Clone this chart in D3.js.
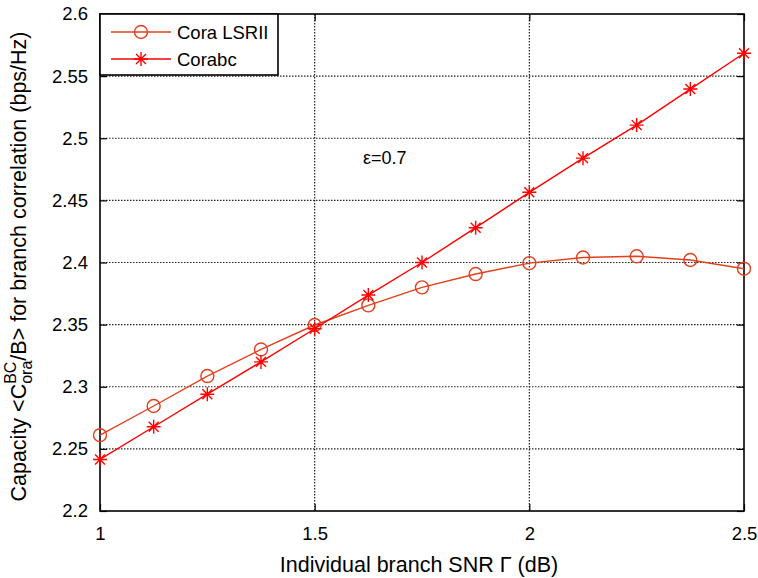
<!DOCTYPE html>
<html>
<head>
<meta charset="utf-8">
<script src="https://cdn.jsdelivr.net/npm/d3@7"></script>
<style>
  body { margin: 0; background: #fff; }
  svg { display: block; font-family: "Liberation Sans", Arial, Helvetica, sans-serif; }
</style>
</head>
<body>
<div id="container"></div>
<script>
const width = 758;
const height = 578;
const marginLeft = 100;
const marginRight = 14;
const marginTop = 14;
const marginBottom = 67;

// SNR points (dB)
const snr = [1, 1.125, 1.25, 1.375, 1.5, 1.625, 1.75, 1.875, 2, 2.125, 2.25, 2.375, 2.5];
// values
const coraLSRII = [2.261, 2.2845, 2.3086, 2.330, 2.3497, 2.3655, 2.380, 2.3907, 2.3995, 2.404, 2.405, 2.402, 2.395];
const corabc = [2.2415, 2.2678, 2.294, 2.320, 2.3467, 2.3738, 2.400, 2.428, 2.4565, 2.484, 2.5106, 2.5396, 2.5684];

const xTicks = [1, 1.5, 2, 2.5];
const yTicks = [2.2, 2.25, 2.3, 2.35, 2.4, 2.45, 2.5, 2.55, 2.6];

const seriesNames = ["Cora LSRII", "Corabc"];
const seriesColors = ["#e2401c", "#ff0000"];
const seriesMarkers = ["circle", "star"];

const x = d3.scaleLinear().domain([1, 2.5]).range([marginLeft, width - marginRight]);
const y = d3.scaleLinear().domain([2.2, 2.6]).range([height - marginBottom, marginTop]);

const svg = d3.select("#container").append("svg")
  .attr("width", width)
  .attr("height", height)
  .attr("viewBox", [0, 0, width, height]);

// grid
svg.append("g")
  .selectAll("line")
  .data(xTicks.slice(1, -1))
  .join("line")
  .attr("x1", d => x(d)).attr("x2", d => x(d))
  .attr("y1", marginTop).attr("y2", height - marginBottom)
  .attr("stroke", "#222").attr("stroke-width", 1.2).attr("stroke-dasharray", "1.5,1.5");

svg.append("g")
  .selectAll("line")
  .data(yTicks.slice(1, -1))
  .join("line")
  .attr("x1", marginLeft).attr("x2", width - marginRight)
  .attr("y1", d => y(d)).attr("y2", d => y(d))
  .attr("stroke", "#222").attr("stroke-width", 1.2).attr("stroke-dasharray", "1.5,1.5");

// axes (ticks inside, MATLAB style)
svg.append("g")
  .attr("transform", `translate(0,${height - marginBottom})`)
  .call(d3.axisBottom(x).tickValues(xTicks).tickFormat(d3.format("")).tickSizeInner(-7).tickSizeOuter(0).tickPadding(16))
  .call(g => g.select(".domain").remove())
  .call(g => g.selectAll("text").attr("font-size", 18.5).attr("fill", "#000").attr("font-family", null));

svg.append("g")
  .attr("transform", `translate(0,${marginTop})`)
  .call(d3.axisTop(x).tickValues(xTicks).tickSizeInner(-7).tickSizeOuter(0).tickFormat(""))
  .call(g => g.select(".domain").remove());

svg.append("g")
  .attr("transform", `translate(${marginLeft},0)`)
  .call(d3.axisLeft(y).tickValues(yTicks).tickFormat(d3.format("")).tickSizeInner(-7).tickSizeOuter(0).tickPadding(12))
  .call(g => g.select(".domain").remove())
  .call(g => g.selectAll("text").attr("font-size", 18.5).attr("fill", "#000").attr("font-family", null));

svg.append("g")
  .attr("transform", `translate(${width - marginRight},0)`)
  .call(d3.axisRight(y).tickValues(yTicks).tickSizeInner(-7).tickSizeOuter(0).tickFormat(""))
  .call(g => g.select(".domain").remove());

svg.selectAll(".tick line").attr("stroke", "#000").attr("stroke-width", 1.2);

// frame
svg.append("rect")
  .attr("x", marginLeft).attr("y", marginTop)
  .attr("width", width - marginLeft - marginRight)
  .attr("height", height - marginTop - marginBottom)
  .attr("fill", "none").attr("stroke", "#000").attr("stroke-width", 1.6);

function starPath(r) {
  const d = r * Math.SQRT1_2;
  return `M${-r},0L${r},0M0,${-r}L0,${r}M${-d},${-d}L${d},${d}M${-d},${d}L${d},${-d}`;
}

function drawMarker(g, kind, color) {
  if (kind === "circle") {
    g.append("circle").attr("r", 6.5).attr("fill", "none")
      .attr("stroke", color).attr("stroke-width", 1.4);
  } else {
    g.append("path").attr("d", starPath(7)).attr("fill", "none")
      .attr("stroke", color).attr("stroke-width", 1.4);
  }
}

const line = d3.line().x(d => x(d[0])).y(d => y(d[1]));

[coraLSRII, corabc].forEach((vals, i) => {
  const pts = snr.map((s, j) => [s, vals[j]]);
  svg.append("path")
    .datum(pts)
    .attr("d", line)
    .attr("fill", "none")
    .attr("stroke", seriesColors[i])
    .attr("stroke-width", 1.4);
  svg.append("g")
    .selectAll("g")
    .data(pts)
    .join("g")
    .attr("transform", d => `translate(${x(d[0])},${y(d[1])})`)
    .each(function() { drawMarker(d3.select(this), seriesMarkers[i], seriesColors[i]); });
});

// legend
const legend = svg.append("g").attr("transform", `translate(${marginLeft},${marginTop})`);
legend.append("rect")
  .attr("width", 178).attr("height", 61)
  .attr("fill", "#fff").attr("stroke", "#000").attr("stroke-width", 1.6);
seriesNames.forEach((name, i) => {
  const row = legend.append("g").attr("transform", `translate(0,${18 + i * 27})`);
  row.append("line").attr("x1", 11).attr("x2", 71)
    .attr("stroke", seriesColors[i]).attr("stroke-width", 1.4);
  drawMarker(row.append("g").attr("transform", "translate(41,0)"), seriesMarkers[i], seriesColors[i]);
  row.append("text").attr("x", 77).attr("y", 6.5)
    .attr("font-size", 18.5).attr("fill", "#000").text(name);
});

// annotation
svg.append("text")
  .attr("x", 363).attr("y", 164)
  .attr("font-size", 18).attr("fill", "#000")
  .text("ε=0.7");

// x label
svg.append("text")
  .attr("x", (marginLeft + width - marginRight) / 2 - 3)
  .attr("y", 572)
  .attr("text-anchor", "middle")
  .attr("font-size", 21.5).attr("fill", "#000")
  .text("Individual branch SNR  Γ (dB)");

// y label with super/subscript
const yl = svg.append("text")
  .attr("transform", `translate(26,${(marginTop + height - marginBottom) / 2 + 4}) rotate(-90)`)
  .attr("text-anchor", "start")
  .attr("font-size", 21.5).attr("fill", "#000");
yl.append("tspan").text("Capacity <C");
const sup = yl.append("tspan").attr("font-size", 16).attr("dy", -10).text("BC");
const sub = yl.append("tspan").attr("font-size", 16).attr("dy", 16).text("ora");
const rest = yl.append("tspan").attr("dy", -6).text("/B> for branch correlation (bps/Hz)");
const supW = sup.node().getComputedTextLength();
const subW = sub.node().getComputedTextLength();
sub.attr("dx", -supW);
rest.attr("dx", Math.max(0, supW - subW));
const total = yl.node().getComputedTextLength() - Math.min(supW, subW);
yl.attr("x", -total / 2);
</script>
</body>
</html>
